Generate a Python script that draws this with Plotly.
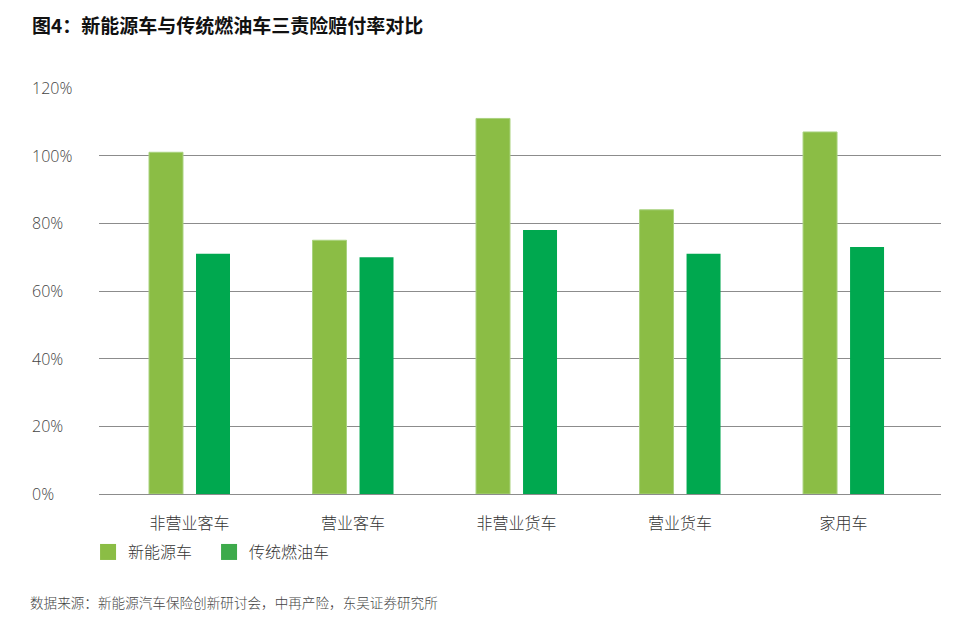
import plotly.graph_objects as go

categories = ["非营业客车", "营业客车", "非营业货车", "营业货车", "家用车"]
nev_values = [101, 75, 111, 84, 107]
ice_values = [71, 70, 78, 71, 73]
series_names = ["新能源车", "传统燃油车"]
y_ticks = [0, 20, 40, 60, 80, 100, 120]
y_tick_labels = [f"{v}%" for v in y_ticks]

title_text = "图4：新能源车与传统燃油车三责险赔付率对比"
source_text = "数据来源：新能源汽车保险创新研讨会，中再产险，东吴证券研究所"

LIGHT = "#8BBD45"
DARK = "#00A84F"
LEG_DARK = "#3DAA4B"
CJK = "Noto Sans CJK SC"
NUM = "Open Sans"

x_idx = list(range(len(categories)))

fig = go.Figure()
fig.add_trace(go.Bar(x=x_idx, y=nev_values, name=series_names[0], marker_color=LIGHT,
                     marker_line=dict(color="#A9D27F", width=1), showlegend=False))
fig.add_trace(go.Bar(x=x_idx, y=ice_values, name=series_names[1], marker_color=DARK,
                     marker_line_width=0, showlegend=False))
# legend entries
for name, col in zip(series_names, [LIGHT, LEG_DARK]):
    fig.add_trace(go.Scatter(x=[None], y=[None], mode="markers", name=name,
                             marker=dict(symbol="square", size=16, color=col)))

annotations = []
for v, lab in zip(y_ticks, y_tick_labels):
    annotations.append(dict(x=-0.082, xref="paper", y=v, yref="y", text=lab,
                            showarrow=False, xanchor="left", yanchor="middle",
                            font=dict(family=NUM, size=16, color="#444444", weight=300)))
annotations.append(dict(x=-0.0819, xref="paper", y=1.157, yref="paper", text=f"<b>{title_text}</b>",
                        showarrow=False, xanchor="left", yanchor="middle",
                        font=dict(family=CJK, size=19, color="#111111")))
annotations.append(dict(x=-0.0843, xref="paper", y=-0.267, yref="paper", text=source_text,
                        showarrow=False, xanchor="left", yanchor="middle",
                        font=dict(family=CJK, size=13.6, color="#444444", weight=300)))

fig.update_layout(
    width=971, height=625,
    margin=dict(l=99, r=30, t=88, b=131),
    paper_bgcolor="white", plot_bgcolor="white",
    barmode="group", bargap=0.425, bargroupgap=0.277,
    xaxis=dict(range=[-0.5535, 4.596], tickmode="array", tickvals=x_idx, ticktext=categories,
               showgrid=False, zeroline=False, showline=False, ticks="",
               tickfont=dict(family=CJK, size=16, color="#333333", weight=300), ticklabelstandoff=18),
    yaxis=dict(range=[0, 120], tickvals=y_ticks, showticklabels=False, showgrid=True,
               gridcolor="#8C8C8C", gridwidth=1, zeroline=True, zerolinecolor="#8C8C8C",
               zerolinewidth=1, showline=False, ticks=""),
    legend=dict(orientation="h", x=-0.013, xanchor="left", y=-0.143, yanchor="middle",
                entrywidth=76, entrywidthmode="pixels",
                font=dict(family=CJK, size=16, color="#333333", weight=300), itemsizing="trace"),
    annotations=annotations,
)

fig.write_html("out.html", config={"displayModeBar": False},
               post_script="document.body.style.margin='0';")
